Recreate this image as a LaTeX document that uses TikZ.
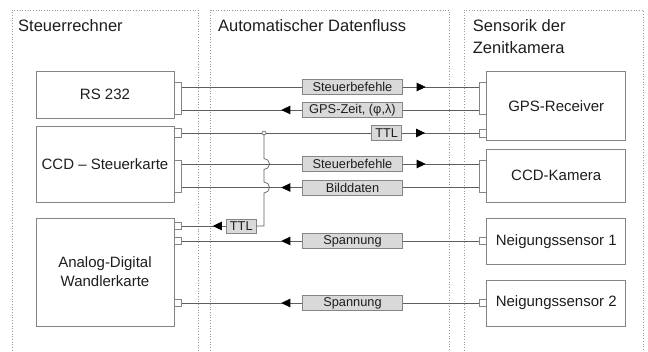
\documentclass[tikz,border=0pt]{standalone}
\usepackage{fontspec}
\setmainfont{Liberation Sans}
\usetikzlibrary{arrows.meta}
\definecolor{lncol}{HTML}{5E5E5E}
\definecolor{boxcol}{HTML}{858585}
\definecolor{fillcol}{HTML}{D9D9D9}
\definecolor{txtcol}{HTML}{1E1E1E}
\definecolor{dotcol}{HTML}{9A9A9A}
\begin{document}
\begin{tikzpicture}[x=1pt,y=-1pt,
  every node/.style={text=txtcol},
  column/.style={draw=dotcol, dotted, line width=0.7pt},
  title/.style={anchor=base west, font=\fontsize{16.5}{20}\selectfont, inner sep=0pt},
  unit/.style={draw=boxcol, line width=0.8pt, fill=white, inner sep=0pt, font=\fontsize{15}{19}\selectfont, align=center, minimum width=139pt},
  stub/.style={draw=boxcol, line width=0.8pt, fill=white, inner sep=0pt, minimum width=7.7pt},
  tag/.style={draw=boxcol, line width=0.8pt, fill=fillcol, inner sep=0pt, minimum height=15pt, font=\fontsize{12.8}{14}\selectfont},
  wire/.style={draw=lncol, line width=0.7pt},
  tip/.style={draw=lncol, line width=0.7pt, -{Triangle[length=9pt,width=8.5pt,color=black,fill=black]}}
]
\useasboundingbox (0,0) rectangle (648,352);
\fill[white] (0,0) rectangle (648,352);

% dotted columns
\draw[column] (12,356) -- (12,10) -- (198,10) -- (198,356);
\draw[column] (210.7,356) -- (210.7,10) -- (449,10) -- (449,356);
\draw[column] (464,356) -- (464,10) -- (643,10) -- (643,356);

% titles
\node[title] (t1) at (18,32) {Steuerrechner};
\node[title] (t2) at (218,32) {Automatischer Datenfluss};
\node[title] (t3) at (472.7,32) {Sensorik der};
\node[title] (t4) at (472.7,54) {Zenitkamera};

% units
\node[unit, minimum width=138pt, minimum height=47pt] (rs) at (105,94.6) {RS 232};
\node[unit, minimum width=138pt, minimum height=76pt] (ccds) at (105,164) {CCD – Steuerkarte};
\node[unit, minimum width=138pt, minimum height=108pt] (adw) at (105,272) {Analog-Digital\\Wandlerkarte};
\node[unit, minimum height=69.7pt] (gps) at (556.2,105.8) {GPS-Receiver};
\node[unit, minimum height=53.3pt] (ccdk) at (556.2,175.6) {CCD-Kamera};
\node[unit, minimum height=46pt] (n1) at (556.2,241.3) {Neigungssensor 1};
\node[unit, minimum height=46pt] (n2) at (556.2,303) {Neigungssensor 2};

% stubs
\node[stub, minimum height=32pt] (s1) at (178,98) {};
\node[stub, minimum height=32pt] (s2) at (483,98) {};
\node[stub, minimum height=8.5pt] (s3) at (178,133) {};
\node[stub, minimum height=8pt] (s4) at (483,133) {};
\node[stub, minimum height=32pt] (s5) at (178,176) {};
\node[stub, minimum height=32pt] (s6) at (483,176) {};
\node[stub, minimum height=7pt] (s7) at (178,226) {};
\node[stub, minimum height=7pt] (s8) at (178,241) {};
\node[stub, minimum height=7pt] (s9) at (178,303) {};
\node[stub, minimum height=7.5pt] (s10) at (483,241) {};
\node[stub, minimum height=7pt] (s11) at (483,303) {};

% tags
\node[tag, minimum width=99.6pt] (l1) at (352.5,87) {Steuerbefehle};
\node[tag, minimum width=99.6pt] (l2) at (352.5,110) {GPS-Zeit, (φ,λ)};
\node[tag, minimum width=30pt] (l3) at (386.7,133) {TTL};
\node[tag, minimum width=99.6pt] (l4) at (352.5,164) {Steuerbefehle};
\node[tag, minimum width=99.6pt] (l5) at (352.5,187.5) {Bilddaten};
\node[tag, minimum width=29.3pt, minimum height=14pt] (l6) at (241.3,226) {TTL};
\node[tag, minimum width=99.6pt] (l7) at (352.5,241) {Spannung};
\node[tag, minimum width=99.6pt] (l8) at (352.5,303) {Spannung};

% Steuerbefehle RS232 -> GPS
\draw[wire] (s1.east |- l1.west) -- (l1.west);
\draw[wire] (l1.east) -- (s2.west |- l1.east);
\draw[tip] (l1.east) -- ++(23,0);
% GPS-Zeit GPS -> RS232
\draw[wire] (s2.west |- l2.east) -- (l2.east);
\draw[wire] (l2.west) -- (s1.east |- l2.west);
\draw[tip] (l2.west) -- ++(-21,0);
% TTL CCD-Steuerkarte -> GPS
\draw[wire] (s3.east) -- (l3.west);
\draw[wire] (l3.east) -- (s4.west);
\draw[tip] (l3.east) -- ++(23,0);
% Steuerbefehle CCD -> Kamera
\draw[wire] (s5.east |- l4.west) -- (l4.west);
\draw[wire] (l4.east) -- (s6.west |- l4.east);
\draw[tip] (l4.east) -- ++(23,0);
% Bilddaten Kamera -> CCD
\draw[wire] (s6.west |- l5.east) -- (l5.east);
\draw[wire] (l5.west) -- (s5.east |- l5.west);
\draw[tip] (l5.west) -- ++(-21,0);
% TTL branch with hops
\coordinate (j) at (264,133);
\draw[wire] (j) -- (264,158.5) arc[start angle=90,end angle=-90,radius=5.5pt]
  -- (264,182) arc[start angle=90,end angle=-90,radius=5.5pt]
  -- (264,226) -- (l6.east);
\draw[wire] (l6.west) -- (s7.east);
\draw[tip] (l6.west) -- ++(-13.5,0);
\draw[draw=lncol, line width=0.6pt, fill=white] (j) circle[radius=2pt];
% Spannung 1
\draw[wire] (s10.west) -- (l7.east);
\draw[wire] (l7.west) -- (s8.east);
\draw[tip] (l7.west) -- ++(-21,0);
% Spannung 2
\draw[wire] (s11.west) -- (l8.east);
\draw[wire] (l8.west) -- (s9.east);
\draw[tip] (l8.west) -- ++(-21,0);
\end{tikzpicture}
\end{document}
